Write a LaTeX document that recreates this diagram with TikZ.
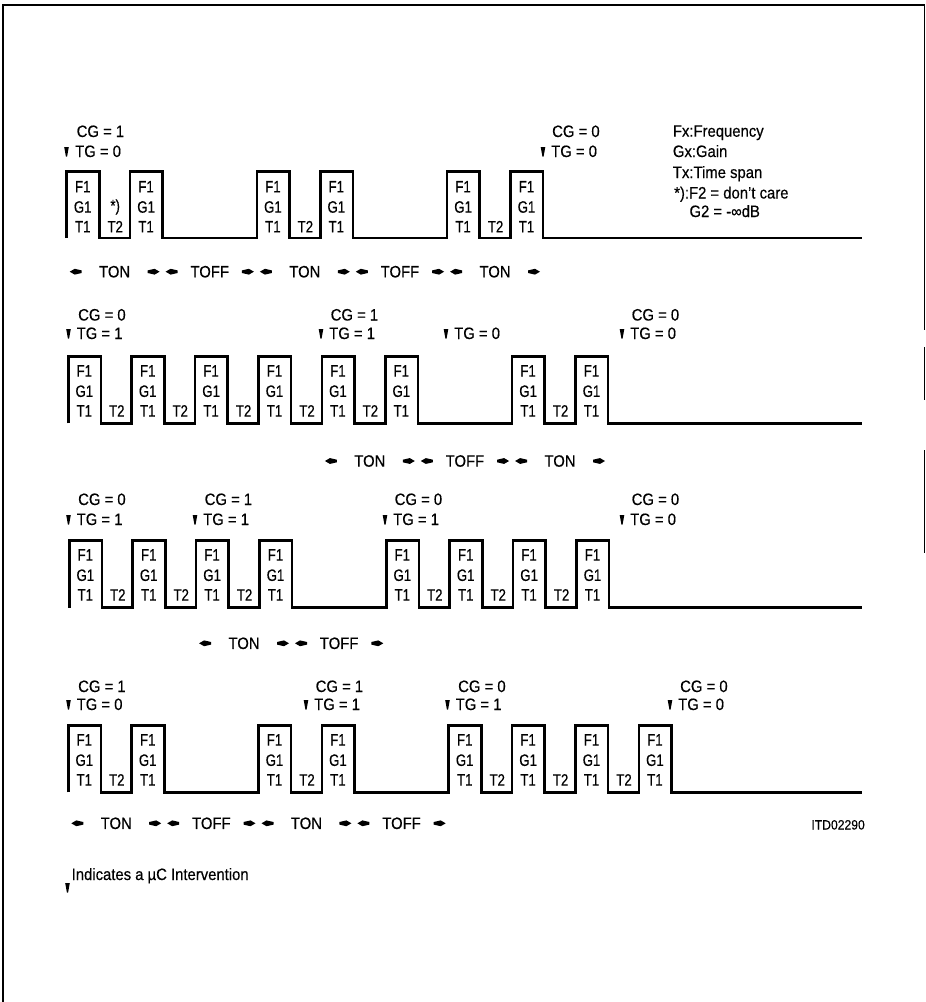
\documentclass[tikz,border=0pt]{standalone}
\usepackage{fontspec}
\setmainfont{Liberation Sans}[FakeStretch=0.9,FakeBold=0.4]
\newfontfamily\bxfont{Liberation Sans}[FakeStretch=0.8,FakeBold=0.4]
\begin{document}
\begin{tikzpicture}[x=1pt,y=-1pt,
  wave/.style={line width=2.6pt,line join=miter},
  frm/.style={line width=1.3pt},
  lab/.style={inner sep=0pt,font=\fontsize{16.5}{18}\selectfont},
  small/.style={inner sep=0pt,font=\fontsize{13.5}{15}\selectfont},
  bt/.style={inner sep=0pt,font=\bxfont\fontsize{16.5}{18}\selectfont}]
\useasboundingbox (0,0) rectangle (926,1002);
% frame
\draw[frm] (3,1002) -- (3,5) -- (924.5,5) -- (924.5,330);
\draw[frm] (924.5,347) -- (924.5,400);
\draw[frm] (924.5,450) -- (924.5,553);
% macros
\newcommand\wavepath[4]{%
  \draw[wave] (#1,#3) \foreach \k in {#4}{ -- ({#1+\k*63.4},#3) -- ({#1+\k*63.4},#2) -- ({#1+\k*63.4+32.5},#2) -- ({#1+\k*63.4+32.5},#3)} -- (862,#3);}
\newcommand\boxtexts[4]{% #1 row id, #2 x0, #3 top, #4 list
  \foreach \k in {#4}{
    \node[bt] (#1f\k) at ({#2+\k*63.4+16},{#3+14.2}) {F1};
    \node[bt] (#1g\k) at ({#2+\k*63.4+16},{#3+34.5}) {G1};
    \node[bt] (#1t\k) at ({#2+\k*63.4+16},{#3+54.2}) {T1};}}
\newcommand\gaptexts[4]{%
  \foreach \k in {#4}{
    \node[bt] (#1s\k) at ({#2+\k*63.4+48.5},{#3+54.2}) {T2};}}
\newcommand\mk[2]{\fill (#1-2.3,#2) -- (#1+2.3,#2) -- (#1+0.6,#2+9.5) -- (#1-0.6,#2+9.5) -- cycle;}
\newcommand\tspan[5]{% a, b, y, text, name
  \fill (#1+3,#3) -- (#1+8,#3-2.9) -- (#1+15,#3-1.3) -- (#1+15,#3+1.3) -- (#1+8,#3+2.9) -- cycle;
  \fill (#2-3,#3) -- (#2-8,#3-2.9) -- (#2-15,#3-1.3) -- (#2-15,#3+1.3) -- (#2-8,#3+2.9) -- cycle;
  \node[lab] (#5) at ({(#1+#2)/2},#3) {#4};}
% ---------------- row 1
\wavepath{66.7}{171.7}{238}{0,1,3,4,6,7}
\boxtexts{ra}{66.7}{172.5}{0,1,3,4,6,7}
\gaptexts{ra}{66.7}{172.5}{0,3,6}
\node[bt] (rastar) at ({66.7+48.5},{172.5+34.5}) {*)};
\mk{66.5}{147}
\node[lab,anchor=base west] (racg1) at (76.5,137) {CG = 1};
\node[lab,anchor=base west] (ratg1) at (75,157) {TG = 0};
\mk{543}{147}
\node[lab,anchor=base west] (racg2) at (552,137) {CG = 0};
\node[lab,anchor=base west] (ratg2) at (551,157) {TG = 0};
\tspan{66.7}{162.6}{271.7}{TON}{ra1}
\tspan{162.6}{256.9}{271.7}{TOFF}{ra2}
\tspan{256.9}{352.8}{271.7}{TON}{ra3}
\tspan{352.8}{447.1}{271.7}{TOFF}{ra4}
\tspan{447.1}{543}{271.7}{TON}{ra5}
% legend
\node[lab,anchor=base west] (lg1) at (672.7,136.7) {Fx:Frequency};
\node[lab,anchor=base west] (lg2) at (672.7,157) {Gx:Gain};
\node[lab,anchor=base west] (lg3) at (672.7,178) {Tx:Time span};
\node[lab,anchor=base west] (lg4) at (674,198.5) {*):F2 = don't care};
\node[lab,anchor=base west] (lg5) at (689.3,217) {G2 = -∞dB};
% ---------------- row 2
\wavepath{68.3}{356.7}{423.3}{0,1,2,3,4,5,7,8}
\boxtexts{rb}{68.3}{356.7}{0,1,2,3,4,5,7,8}
\gaptexts{rb}{68.3}{356.7}{0,1,2,3,4,7}
\mk{68.5}{329}
\node[lab,anchor=base west] (rbcg1) at (78,320.5) {CG = 0};
\node[lab,anchor=base west] (rbtg1) at (76.5,339) {TG = 1};
\mk{321}{329}
\node[lab,anchor=base west] (rbcg2) at (330.5,320.5) {CG = 1};
\node[lab,anchor=base west] (rbtg2) at (329,339) {TG = 1};
\mk{446}{329}
\node[lab,anchor=base west] (rbtg3) at (454,339) {TG = 0};
\mk{622}{329}
\node[lab,anchor=base west] (rbcg4) at (631.5,320.5) {CG = 0};
\node[lab,anchor=base west] (rbtg4) at (630,339) {TG = 0};
\tspan{321.9}{417.8}{461}{TON}{rb1}
\tspan{417.8}{512.1}{461}{TOFF}{rb2}
\tspan{512.1}{608}{461}{TON}{rb3}
% ---------------- row 3
\wavepath{69.3}{540.7}{607.7}{0,1,2,3,5,6,7,8}
\boxtexts{rc}{69.3}{540.7}{0,1,2,3,5,6,7,8}
\gaptexts{rc}{69.3}{540.7}{0,1,2,5,6,7}
\mk{68.5}{515}
\node[lab,anchor=base west] (rccg1) at (78,505) {CG = 0};
\node[lab,anchor=base west] (rctg1) at (76.5,525) {TG = 1};
\mk{195}{515}
\node[lab,anchor=base west] (rccg2) at (204.5,505) {CG = 1};
\node[lab,anchor=base west] (rctg2) at (203,525) {TG = 1};
\mk{385}{515}
\node[lab,anchor=base west] (rccg3) at (394.5,505) {CG = 0};
\node[lab,anchor=base west] (rctg3) at (393,525) {TG = 1};
\mk{622}{515}
\node[lab,anchor=base west] (rccg4) at (631.5,505) {CG = 0};
\node[lab,anchor=base west] (rctg4) at (630,525) {TG = 0};
\tspan{196.1}{292}{643.3}{TON}{rc1}
\tspan{292}{386.3}{643.3}{TOFF}{rc2}
% ---------------- row 4
\wavepath{68.3}{725.7}{792.3}{0,1,3,4,6,7,8,9}
\boxtexts{rd}{68.3}{725.7}{0,1,3,4,6,7,8,9}
\gaptexts{rd}{68.3}{725.7}{0,3,6,7,8}
\mk{68.5}{700}
\node[lab,anchor=base west] (rdcg1) at (78,692) {CG = 1};
\node[lab,anchor=base west] (rdtg1) at (76.5,710) {TG = 0};
\mk{306}{700}
\node[lab,anchor=base west] (rdcg2) at (315.5,692) {CG = 1};
\node[lab,anchor=base west] (rdtg2) at (314,710) {TG = 1};
\mk{447.5}{700}
\node[lab,anchor=base west] (rdcg3) at (458,692) {CG = 0};
\node[lab,anchor=base west] (rdtg3) at (455.5,710) {TG = 1};
\mk{670}{700}
\node[lab,anchor=base west] (rdcg4) at (680,692) {CG = 0};
\node[lab,anchor=base west] (rdtg4) at (678,710) {TG = 0};
\tspan{68.3}{164.2}{823.3}{TON}{rd1}
\tspan{164.2}{258.5}{823.3}{TOFF}{rd2}
\tspan{258.5}{354.4}{823.3}{TON}{rd3}
\tspan{354.4}{448.7}{823.3}{TOFF}{rd4}
\node[small,anchor=base east] (itd) at (865,829.5) {ITD02290};
% footnote
\mk{67.5}{883}
\node[lab,anchor=base west] (note) at (71.5,880) {Indicates a µC Intervention};
\end{tikzpicture}
\end{document}
